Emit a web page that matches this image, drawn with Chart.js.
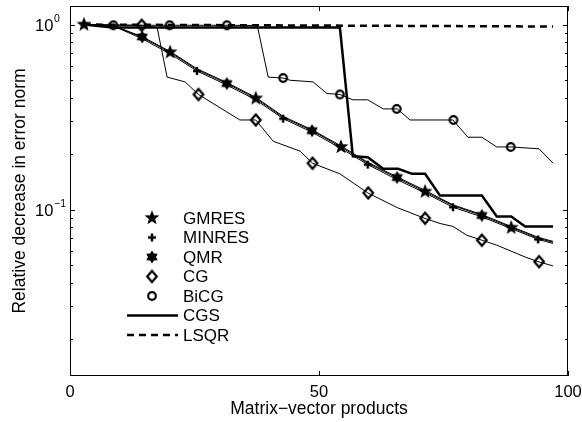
<!DOCTYPE html>
<html>
<head>
<meta charset="utf-8">
<script src="https://cdn.jsdelivr.net/npm/chart.js@4.4.0/dist/chart.umd.min.js"></script>
<style>
html, body { margin: 0; padding: 0; background: #fff; }
#chart { display: block; }
</style>
</head>
<body>
<canvas id="chart" width="582" height="422"></canvas>
<script>
// axis ticks
const xTicks = [0, 50, 100];
const yMajorTicks = [0.1, 1];
const yMinorTicks = [0.02, 0.03, 0.04, 0.05, 0.06, 0.07, 0.08, 0.09, 0.2, 0.3, 0.4, 0.5, 0.6, 0.7, 0.8, 0.9];

// line vertices (x = matrix-vector products, y = relative decrease)
const gmresX = [2.8, 8.6, 14.5, 20.1, 25.5, 31.5, 37.3, 42.8, 48.6, 54.4, 59.8, 65.7, 71.3, 76.9, 82.7, 88.6, 94.0, 97.0];
const gmresY = [1.0, 0.988, 0.852, 0.708, 0.570, 0.480, 0.399, 0.315, 0.267, 0.218, 0.178, 0.148, 0.125, 0.105, 0.0929, 0.0801, 0.0700, 0.0666];
const minresX = [2.8, 8.6, 14.5, 20.1, 25.5, 31.5, 37.3, 42.8, 48.6, 54.4, 59.8, 65.7, 71.3, 76.9, 82.7, 88.6, 94.0, 97.0];
const minresY = [1.0, 0.985, 0.838, 0.695, 0.561, 0.471, 0.392, 0.310, 0.262, 0.214, 0.175, 0.145, 0.123, 0.103, 0.0913, 0.0789, 0.0690, 0.0656];
const qmrX = [2.8, 8.6, 14.5, 20.1, 25.5, 31.5, 37.3, 42.8, 48.6, 54.4, 59.8, 65.7, 71.3, 76.9, 82.7, 88.6, 94.0, 97.0];
const qmrY = [1.0, 0.990, 0.860, 0.716, 0.577, 0.486, 0.404, 0.319, 0.270, 0.221, 0.180, 0.150, 0.127, 0.106, 0.0940, 0.0810, 0.0708, 0.0673];
const cgX = [2.8, 14.4, 17.5, 19.5, 23.1, 25.8, 34.1, 37.3, 40.8, 46.2, 48.7, 54.2, 59.8, 65.7, 71.3, 74.3, 76.9, 79.7, 82.7, 85.7, 91.4, 94.2, 97.0];
const cgY = [1.0, 0.991, 0.963, 0.52, 0.49, 0.419, 0.305, 0.305, 0.234, 0.207, 0.178, 0.156, 0.123, 0.1025, 0.0895, 0.0841, 0.0811, 0.0726, 0.0683, 0.0642, 0.0554, 0.0521, 0.0496];
const bicgX = [2.8, 8.6, 20.1, 31.5, 37.6, 39.8, 42.8, 44.2, 48.8, 51.6, 54.2, 56.8, 59.8, 62.9, 65.7, 68.3, 76.9, 79.9, 82.7, 85.7, 88.6, 94.2, 97.0];
const bicgY = [1.0, 0.991, 0.991, 0.991, 0.988, 0.52, 0.514, 0.50, 0.49, 0.424, 0.419, 0.392, 0.392, 0.350, 0.350, 0.305, 0.305, 0.246, 0.246, 0.218, 0.218, 0.213, 0.178];
const cgsX = [2.8, 8.6, 54.2, 56.8, 59.8, 62.9, 65.9, 68.7, 71.3, 74.3, 82.7, 85.7, 88.6, 91.4, 97.0];
const cgsY = [1.0, 0.963, 0.963, 0.194, 0.192, 0.166, 0.166, 0.156, 0.156, 0.119, 0.119, 0.0918, 0.0918, 0.0811, 0.0811];
const lsqrX = [2.8, 50, 97.0];
const lsqrY = [1.0, 0.988, 0.976];

// marker positions
const gmresMarkX = [2.8, 20.1, 37.3, 54.4, 71.3, 88.6];
const gmresMarkY = [1.0, 0.708, 0.399, 0.218, 0.125, 0.0798];
const minresMarkX = [25.5, 42.8, 59.8, 76.9, 94.0];
const minresMarkY = [0.561, 0.310, 0.175, 0.103, 0.0690];
const qmrMarkX = [14.5, 31.5, 48.6, 65.7, 82.7];
const qmrMarkY = [0.857, 0.480, 0.267, 0.149, 0.0929];
const cgMarkX = [14.4, 25.8, 37.3, 48.7, 59.9, 71.3, 82.7, 94.2];
const cgMarkY = [0.991, 0.419, 0.305, 0.178, 0.123, 0.0898, 0.0683, 0.0523];
const bicgMarkX = [8.7, 20.0, 31.5, 42.8, 54.2, 65.6, 77.0, 88.5];
const bicgMarkY = [0.991, 0.991, 0.991, 0.514, 0.419, 0.350, 0.305, 0.218];

const FONT = '"Liberation Sans", Arial, Helvetica, sans-serif';

function pts(xs, ys) {
    return xs.map((v, i) => ({x: v, y: ys[i]}));
}

function makeMarker(kind) {
    const c = document.createElement('canvas');
    c.width = 18;
    c.height = 18;
    const g = c.getContext('2d');
    const cx = 9, cy = 9;
    g.fillStyle = '#000';
    g.strokeStyle = '#000';
    if (kind === 'pentagram' || kind === 'hexagram') {
        const n = kind === 'pentagram' ? 5 : 6;
        const R = kind === 'pentagram' ? 7.8 : 6.6;
        const r = kind === 'pentagram' ? R * 0.42 : R * 0.6;
        g.beginPath();
        for (let i = 0; i < n * 2; i++) {
            const a = -Math.PI / 2 + i * Math.PI / n;
            const rr = i % 2 === 0 ? R : r;
            g.lineTo(cx + rr * Math.cos(a), cy + rr * Math.sin(a));
        }
        g.closePath();
        g.fill();
    } else if (kind === 'plus') {
        g.lineWidth = 2.4;
        g.beginPath();
        g.moveTo(cx - 4, cy); g.lineTo(cx + 4, cy);
        g.moveTo(cx, cy - 4); g.lineTo(cx, cy + 4);
        g.stroke();
    } else if (kind === 'diamond') {
        g.lineWidth = 2.2;
        g.beginPath();
        g.moveTo(cx, cy - 5.5); g.lineTo(cx + 4.8, cy);
        g.lineTo(cx, cy + 5.5); g.lineTo(cx - 4.8, cy);
        g.closePath();
        g.stroke();
    } else if (kind === 'circle') {
        g.lineWidth = 2.2;
        g.beginPath();
        g.arc(cx, cy, 3.8, 0, Math.PI * 2);
        g.stroke();
    }
    return c;
}

const markers = {
    star: makeMarker('pentagram'),
    plus: makeMarker('plus'),
    hex: makeMarker('hexagram'),
    diamond: makeMarker('diamond'),
    circle: makeMarker('circle')
};

function lineSet(label, xs, ys, width, dash) {
    return {
        label, data: pts(xs, ys), borderColor: '#000', borderWidth: width,
        borderDash: dash || [], pointRadius: 0, tension: 0, fill: false, order: 1
    };
}
function markSet(label, xs, ys, img) {
    return {
        label, data: pts(xs, ys), showLine: false, pointStyle: img,
        pointRadius: 5, pointHoverRadius: 5, order: 0
    };
}

const legendItems = [
    {label: 'GMRES', img: markers.star},
    {label: 'MINRES', img: markers.plus},
    {label: 'QMR', img: markers.hex},
    {label: 'CG', img: markers.diamond},
    {label: 'BiCG', img: markers.circle},
    {label: 'CGS', line: []},
    {label: 'LSQR', line: [7, 5]}
];

const matlabAxes = {
    id: 'matlabAxes',
    beforeDraw(chart) {
        const ctx = chart.ctx;
        ctx.save();
        ctx.fillStyle = '#fff';
        ctx.fillRect(0, 0, chart.width, chart.height);
        ctx.restore();
    },
    afterDraw(chart) {
        const {ctx, chartArea: a, scales: {x, y}} = chart;
        ctx.save();
        ctx.strokeStyle = '#000';
        ctx.lineWidth = 1;
        ctx.strokeRect(a.left + 0.5, a.top + 0.5, a.right - a.left - 1, a.bottom - a.top - 1);
        ctx.beginPath();
        xTicks.forEach(v => {
            const px = Math.round(x.getPixelForValue(v)) + 0.5;
            ctx.moveTo(px, a.bottom); ctx.lineTo(px, a.bottom - 5);
            ctx.moveTo(px, a.top); ctx.lineTo(px, a.top + 5);
        });
        yMajorTicks.forEach(v => {
            const py = Math.round(y.getPixelForValue(v)) + 0.5;
            ctx.moveTo(a.left, py); ctx.lineTo(a.left + 5, py);
            ctx.moveTo(a.right, py); ctx.lineTo(a.right - 5, py);
        });
        yMinorTicks.forEach(v => {
            const py = Math.round(y.getPixelForValue(v)) + 0.5;
            ctx.moveTo(a.left, py); ctx.lineTo(a.left + 3, py);
            ctx.moveTo(a.right, py); ctx.lineTo(a.right - 3, py);
        });
        ctx.stroke();

        ctx.fillStyle = '#000';
        ctx.font = '16.5px ' + FONT;
        ctx.textAlign = 'center';
        ctx.textBaseline = 'alphabetic';
        xTicks.forEach(v => {
            ctx.fillText(String(v), x.getPixelForValue(v), a.bottom + 21);
        });
        ctx.font = '17.5px ' + FONT;
        ctx.fillText('Matrix\u2212vector products', (a.left + a.right) / 2, a.bottom + 38);

        ctx.textAlign = 'left';
        yMajorTicks.forEach(v => {
            const py = y.getPixelForValue(v);
            ctx.font = '16.5px ' + FONT;
            ctx.fillText('10', a.left - 35, py + 6);
            ctx.font = '10.5px ' + FONT;
            ctx.fillText(v === 1 ? '0' : '\u22121', a.left - 16, py - 3);
        });

        ctx.save();
        ctx.font = '17.5px ' + FONT;
        ctx.textAlign = 'center';
        ctx.translate(25, (a.top + a.bottom) / 2);
        ctx.rotate(-Math.PI / 2);
        ctx.fillText('Relative decrease in error norm', 0, 0);
        ctx.restore();

        // legend inside plot area
        const mx = a.left + 82, tx = a.left + 113;
        ctx.font = '17px ' + FONT;
        ctx.textBaseline = 'middle';
        legendItems.forEach((it, i) => {
            const ry = a.top + 212 + i * 19.5;
            if (it.img) {
                ctx.drawImage(it.img, mx - it.img.width / 2, ry - it.img.height / 2);
            } else {
                ctx.save();
                ctx.lineWidth = 2.5;
                ctx.setLineDash(it.line);
                ctx.beginPath();
                ctx.moveTo(mx - 25, ry); ctx.lineTo(mx + 26, ry);
                ctx.stroke();
                ctx.restore();
            }
            ctx.fillText(it.label, tx, ry + 1);
        });
        ctx.restore();
    }
};

new Chart(document.getElementById('chart'), {
    type: 'line',
    data: {
        datasets: [
            lineSet('GMRES', gmresX, gmresY, 1),
            lineSet('MINRES', minresX, minresY, 1),
            lineSet('QMR', qmrX, qmrY, 1),
            lineSet('CG', cgX, cgY, 1),
            lineSet('BiCG', bicgX, bicgY, 1),
            lineSet('CGS', cgsX, cgsY, 2.5),
            lineSet('LSQR', lsqrX, lsqrY, 2.5, [7, 5]),
            markSet('GMRES', gmresMarkX, gmresMarkY, markers.star),
            markSet('MINRES', minresMarkX, minresMarkY, markers.plus),
            markSet('QMR', qmrMarkX, qmrMarkY, markers.hex),
            markSet('CG', cgMarkX, cgMarkY, markers.diamond),
            markSet('BiCG', bicgMarkX, bicgMarkY, markers.circle)
        ]
    },
    options: {
        responsive: false,
        animation: false,
        devicePixelRatio: 1,
        layout: {padding: {left: 70, right: 14, top: 4, bottom: 46}},
        plugins: {legend: {display: false}, tooltip: {enabled: false}},
        scales: {
            x: {type: 'linear', min: 0, max: 100, display: false},
            y: {type: 'logarithmic', min: 0.0126, max: 1.26, display: false}
        }
    },
    plugins: [matlabAxes]
});
</script>
</body>
</html>
